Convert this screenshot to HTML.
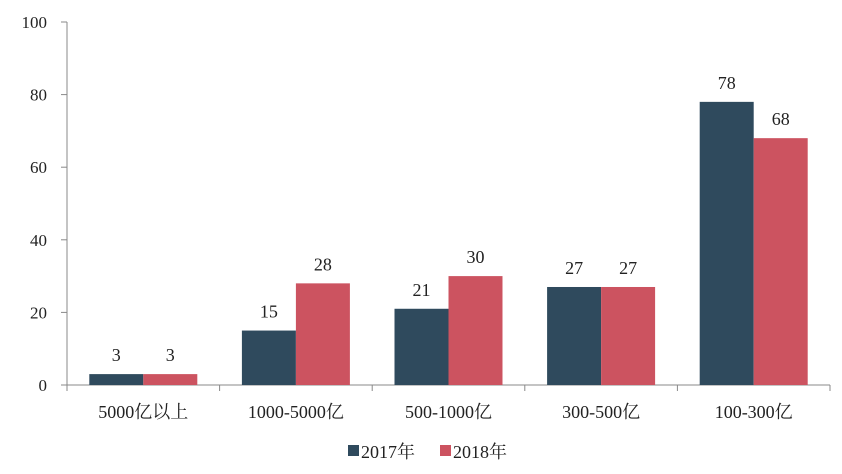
<!DOCTYPE html>
<html><head><meta charset="utf-8">
<style>
html,body{margin:0;padding:0;background:#fff;}
svg{display:block;font-family:"Liberation Serif","Noto Serif CJK SC",serif;}
</style></head>
<body>
<svg id="chart" width="842" height="474" viewBox="0 0 842 474"></svg>
<script>
const categories = ["5000亿以上","1000-5000亿","500-1000亿","300-500亿","100-300亿"];
const values2017 = [3,15,21,27,78];
const values2018 = [3,28,30,27,68];
const yTicks = [0,20,40,60,80,100];
const seriesNames = ["2017年","2018年"];

const NS="http://www.w3.org/2000/svg";
const svg=document.getElementById('chart');
const x0=67,x1=830,yBase=385,yTop=22,yMax=100;
const bandW=(x1-x0)/categories.length;
const barW=54;
function yScale(v){return yBase-(v/yMax)*(yBase-yTop);}
function xCenter(i){return x0+bandW*(i+0.5);}
function mk(tag,attrs,parent){const e=document.createElementNS(NS,tag);for(const k in attrs)e.setAttribute(k,attrs[k]);(parent||svg).appendChild(e);return e;}

// y axis
const yAxis=mk('line',{x1:x0,y1:yTop,x2:x0,y2:yBase,stroke:'#888','stroke-width':1});


yTicks.forEach(t=>{
  const y=yScale(t);
  const tk=mk('line',{x1:x0-6,y1:y,x2:x0,y2:y,stroke:'#888'});
  
  
  const lb=mk('text',{x:x0-20,y:y+6,'text-anchor':'end','font-size':17,fill:'#222'});
  lb.textContent=t;
  
  
});
// x axis
const xAxis=mk('line',{x1:x0,y1:yBase,x2:x1,y2:yBase,stroke:'#888'});


for(let i=0;i<=categories.length;i++){
  const x=x0+bandW*i;
  const tk=mk('line',{x1:x,y1:yBase,x2:x,y2:yBase+6,stroke:'#888'});
  
  
}
categories.forEach((c,i)=>{
  const cx=xCenter(i);
  const lb=mk('text',{x:cx,y:yBase+33,'text-anchor':'middle','font-size':18,fill:'#222'});
  lb.textContent=c;
  
  
  [[values2017,'#2f4a5d',-barW],[values2018,'#cc5360',0]].forEach(([arr,col,off],s)=>{
    const v=arr[i];
    const r=mk('rect',{x:cx+off,y:yScale(v),width:barW,height:yBase-yScale(v),fill:col});
    
    
    const t=mk('text',{x:cx+off+barW/2,y:yScale(v)-13,'text-anchor':'middle','font-size':18,fill:'#222'});
    t.textContent=v;
    
    
  });
});
// legend
[['#2f4a5d',348],['#cc5360',440]].forEach(([col,x],s)=>{
  const g=mk('g',{});
  
  
  mk('rect',{x:x,y:445,width:11,height:11,fill:col},g);
  const t=mk('text',{x:x+13,y:458,'font-size':18,fill:'#222'},g);
  t.textContent=seriesNames[s];
});
</script>
</body></html>
